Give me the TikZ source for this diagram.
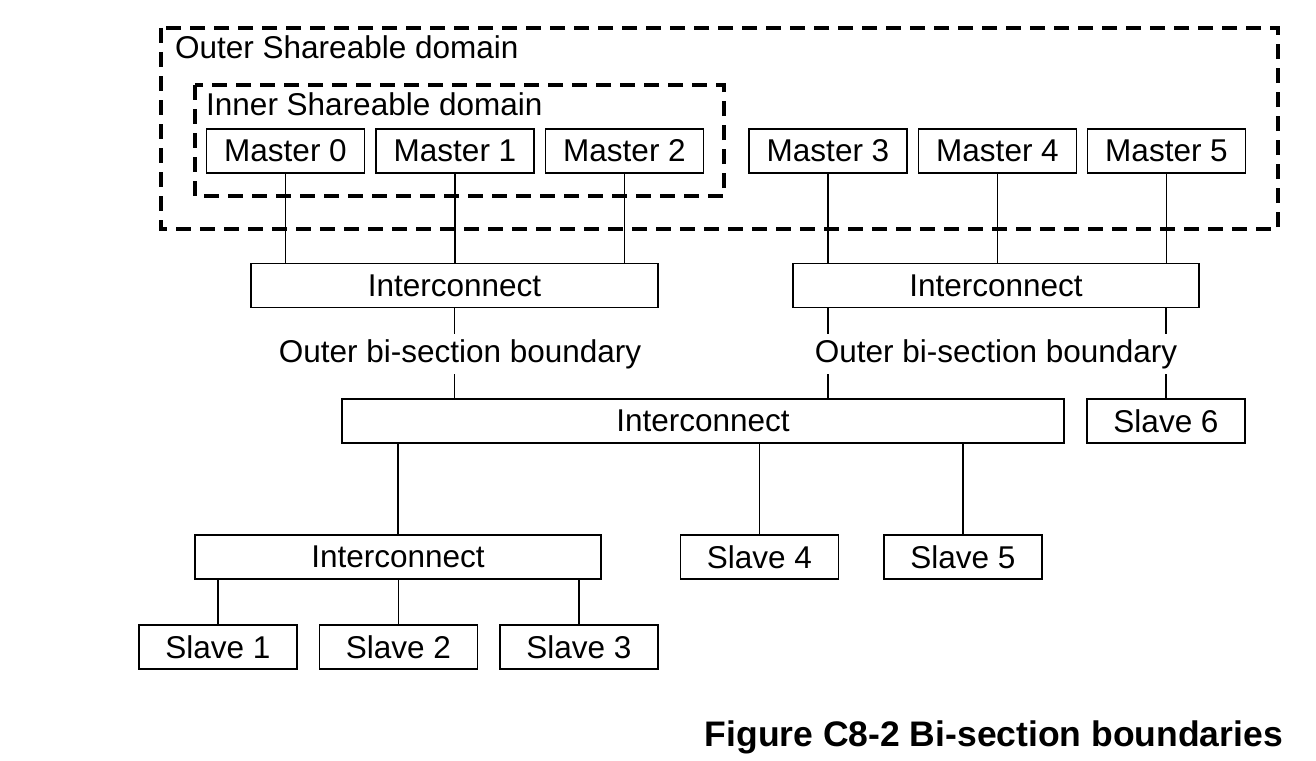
\documentclass[tikz,border=0pt]{standalone}
\usepackage{fontspec}
\setmainfont{Liberation Sans}
\usetikzlibrary{positioning}

\tikzset{
  unit/.style={draw, line width=1.8pt, minimum height=44pt, inner sep=0pt,
    font=\fontsize{31.5}{36}\selectfont},
  port/.style={unit, minimum width=158pt},
  sharezone/.style={line width=4pt, dash pattern=on 15pt off 9pt},
  tag/.style={inner sep=0pt, font=\fontsize{31.5}{36}\selectfont},
  boundary/.style={tag, fill=white, minimum height=40pt},
  link/.style={line width=1.8pt}
}

\begin{document}
\begin{tikzpicture}[x=1pt, y=-1pt]
\useasboundingbox (0,0) rectangle (1316,760);

% Shareable domains
\draw[sharezone] (161,28) rectangle (1278,229);
\draw[sharezone] (195,85) rectangle (724,196);
\node[tag, anchor=west] (outer-label) at (175,47) {Outer Shareable domain};
\node[tag, anchor=west] (inner-label) at (206,104) {Inner Shareable domain};

% Master nodes
\foreach \m/\x in {0/285.5,1/455,2/624.5,3/828,4/997.5,5/1166.5}
  \node[port] (master-\m) at (\x,151) {Master \m};

% Interconnects
\node[unit, minimum width=407pt] (ic-left) at (454.5,285.5) {Interconnect};
\node[unit, minimum width=406pt] (ic-right) at (996,285.5) {Interconnect};
\node[unit, minimum width=722pt] (ic-mid) at (703,421) {Interconnect};
\node[unit, minimum width=406pt] (ic-low) at (398,557) {Interconnect};

% Slave nodes
\foreach \s/\x/\y in {1/218/647,2/398.5/647,3/579/647,4/759.5/557,5/963/557,6/1166/421}
  \node[port] (slave-\s) at (\x,\y) {Slave \s};

% Masters to interconnects
\foreach \m in {0,1,2}
  \draw[link] (master-\m) -- (master-\m |- ic-left.north);
\foreach \m in {3,4,5}
  \draw[link] (master-\m) -- (master-\m |- ic-right.north);

% Across the bi-section boundary
\draw[link] (ic-left) -- (ic-left |- ic-mid.north);
\draw[link] (master-3 |- ic-right.south) -- (master-3 |- ic-mid.north);
\draw[link] (slave-6 |- ic-right.south) -- (slave-6);
\node[boundary] (cut-left) at (460,354) {Outer bi-section boundary};
\node[boundary] (cut-right) at (996,354) {Outer bi-section boundary};

% Interconnects to slaves
\draw[link] (ic-low |- ic-mid.south) -- (ic-low);
\draw[link] (slave-4 |- ic-mid.south) -- (slave-4);
\draw[link] (slave-5 |- ic-mid.south) -- (slave-5);
\foreach \s in {1,2,3}
  \draw[link] (slave-\s |- ic-low.south) -- (slave-\s);

% Caption
\node[anchor=east, inner sep=0pt, font=\fontsize{35.5}{40}\selectfont\bfseries]
  (caption) at (1283,737) {Figure C8-2 Bi-section boundaries};
\end{tikzpicture}
\end{document}
